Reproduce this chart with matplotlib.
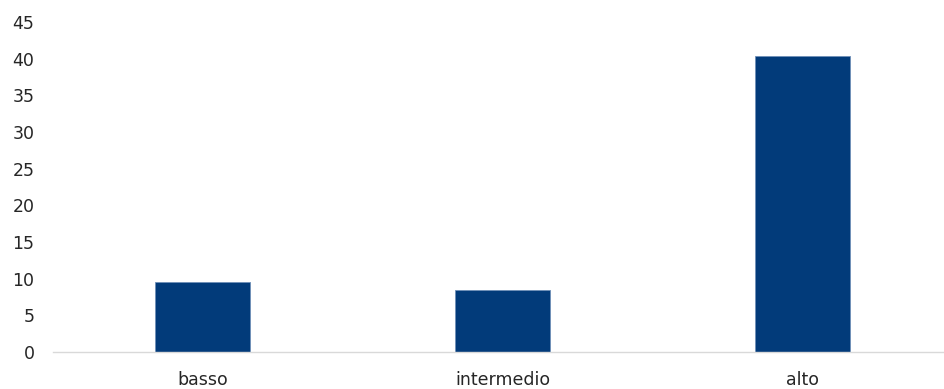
import matplotlib.pyplot as plt

categories = ["basso", "intermedio", "alto"]
values = [9.55, 8.45, 40.35]

plt.rcParams['font.family'] = ['DejaVu Sans']

fig = plt.figure(figsize=(9.45, 3.89), dpi=100)
ax = fig.add_axes([52.5 / 945, (389 - 352) / 389, (945 - 52.5) / 945, 330 / 389])

x = range(len(categories))
ax.bar(x, values, width=0.317, color="#023b7a", edgecolor="#6f8fb8", linewidth=0.6)

ax.set_ylim(0, 45)
ax.set_xlim(-0.5, 2.5 - 8 / 300)
ax.set_yticks(range(0, 46, 5))
ax.set_xticks(list(x))
ax.set_xticklabels(categories)

for s in ["top", "right", "left"]:
    ax.spines[s].set_visible(False)
ax.spines["bottom"].set_color("#d9d9d9")
ax.spines["bottom"].set_linewidth(1)

ax.tick_params(axis="both", length=0, labelsize=12.5, colors="#262626")
ax.tick_params(axis="x", pad=14)
ax.tick_params(axis="y", pad=13)
for lab in ax.get_yticklabels():
    lab.set_horizontalalignment("right")

fig.savefig("out.png", dpi=100)
